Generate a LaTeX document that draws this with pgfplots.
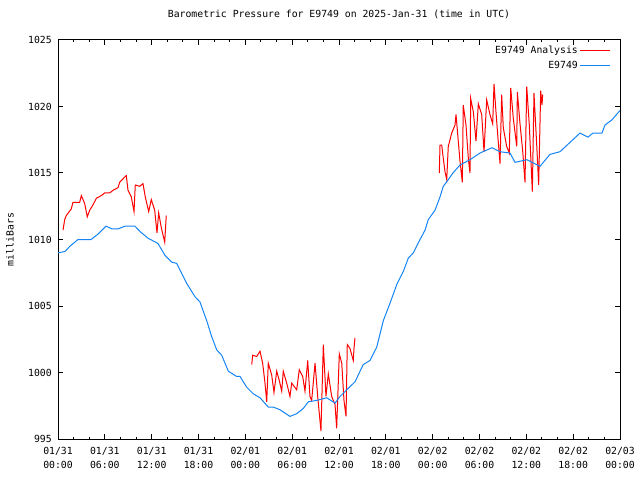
\documentclass[border=0pt]{standalone}
\usepackage{fontspec}
\setmainfont{DejaVu Sans Mono}
\usepackage{pgfplots}
\pgfplotsset{compat=1.18}
\definecolor{seriesred}{RGB}{255,0,0}
\definecolor{seriesblue}{RGB}{20,132,245}
\begin{document}
\fontsize{9.8bp}{14bp}\selectfont
\begin{tikzpicture}
\path[use as bounding box] (-58bp,-41bp) rectangle (582bp,439bp);
\begin{axis}[
  scale only axis,
  width=562bp, height=399bp,
  at={(0,0)}, anchor=south west,
  xmin=0, xmax=72, ymin=995, ymax=1025,
  axis line style={black, line width=1bp},
  every tick/.style={black, line width=1bp},
  major tick length=5bp, minor tick length=2.5bp,
  tick align=inside,
  xtick={0,6,...,72},
  minor x tick num=2,
  xticklabels={{01/31\\00:00},{01/31\\06:00},{01/31\\12:00},{01/31\\18:00},{02/01\\00:00},{02/01\\06:00},{02/01\\12:00},{02/01\\18:00},{02/02\\00:00},{02/02\\06:00},{02/02\\12:00},{02/02\\18:00},{02/03\\00:00}},
  xticklabel style={align=center, inner sep=0pt, yshift=-8bp, font=\fontsize{9.8bp}{14bp}\selectfont},
  ytick={995,1000,...,1025},
  yticklabel style={inner sep=0pt, xshift=-6bp, font=\fontsize{9.8bp}{14bp}\selectfont},
  /pgf/number format/.cd, 1000 sep={}, assume math mode=true, /pgfplots/.cd,
  title={Barometric Pressure for E9749 on 2025-Jan-31 (time in UTC)},
  title style={at={(0.5,1)}, anchor=base, yshift=17bp, inner sep=0pt, font=\fontsize{9.8bp}{12bp}\selectfont},
  ylabel={milliBars},
  ylabel style={at={(axis description cs:0,0.5)}, anchor=center, yshift=48bp, inner sep=0pt, font=\fontsize{9.8bp}{12bp}\selectfont},
  unbounded coords=jump,
  legend plot pos=right,
  legend cell align=right,
  legend style={draw=none, fill=none, at={(1,1)}, anchor=north east, xshift=-9bp, yshift=-4bp, row sep=2bp, inner sep=0pt, font=\fontsize{9.8bp}{12bp}\selectfont},
  legend image code/.code={\draw[#1] (5bp,0bp) -- (35bp,0bp);},
]
\addplot[seriesred, line width=1bp] table {
x y
0.64 1010.7
0.86 1011.5
1.06 1011.8
1.70 1012.3
1.92 1012.8
2.78 1012.8
2.99 1013.3
3.42 1012.7
3.75 1011.7
4.06 1012.2
4.48 1012.6
4.91 1013.1
5.55 1013.3
5.98 1013.5
6.62 1013.5
7.05 1013.7
7.69 1013.9
7.90 1014.3
8.55 1014.7
8.75 1014.8
8.97 1013.7
9.39 1013.2
9.74 1012.1
9.90 1014.1
10.47 1014.0
10.89 1014.2
11.18 1013.2
11.62 1012.1
11.95 1013.0
12.39 1012.2
12.68 1010.5
12.90 1012.0
13.23 1010.9
13.67 1009.8
13.87 1011.8
20 nan
24.82 1000.6
24.94 1001.3
25.46 1001.2
25.88 1001.6
26.22 1000.7
26.52 999.2
26.74 997.8
26.94 1000.7
27.38 999.8
27.67 998.5
28.02 1000.1
28.35 999.4
28.66 998.6
28.86 1000.1
29.30 999.2
29.72 998.2
29.94 999.2
30.58 998.7
30.91 1000.2
31.35 999.7
31.64 998.6
31.99 1000.9
32.28 998.2
32.50 997.9
32.93 1000.7
33.27 998.2
33.69 995.6
33.99 1002.1
34.33 998.2
34.63 999.9
35.06 998.2
35.49 997.6
35.70 995.8
36.04 1001.4
36.35 1000.7
36.64 997.9
36.90 996.7
37.06 1002.1
37.41 1001.8
37.83 1000.9
37.92 1001.8
38.05 1002.6
44 nan
48.85 1015.0
48.94 1017.1
49.16 1017.1
49.36 1016.1
49.58 1015.1
49.80 1014.5
50.00 1017.0
50.44 1018.0
50.86 1018.6
50.99 1019.4
51.28 1017.4
51.50 1015.9
51.80 1014.3
51.92 1020.1
52.27 1018.6
52.57 1016.1
52.78 1015.0
52.87 1020.6
53.21 1019.6
53.55 1017.4
53.85 1020.2
54.28 1019.4
54.58 1016.6
54.92 1020.5
55.34 1019.4
55.69 1018.7
55.86 1021.7
56.11 1019.6
56.33 1017.9
56.63 1015.7
56.84 1020.9
57.05 1018.4
57.48 1017.0
57.82 1016.5
58.00 1021.4
58.33 1019.1
58.77 1017.0
58.85 1021.1
59.19 1018.7
59.54 1016.6
59.83 1014.3
60.05 1021.5
60.38 1018.6
60.77 1013.6
60.98 1021.0
61.33 1017.1
61.58 1014.1
61.84 1021.2
62.00 1020.1
62.10 1020.9
};
\addlegendentry{E9749 Analysis}
\addplot[seriesblue, line width=1bp] table {
x y
0.00 1009.0
0.90 1009.1
1.54 1009.5
2.56 1010.0
4.23 1010.0
5.12 1010.4
6.15 1011.0
6.92 1010.8
7.69 1010.8
8.58 1011.0
9.86 1011.0
10.51 1010.6
11.53 1010.1
12.81 1009.7
13.71 1008.8
14.57 1008.3
15.21 1008.2
16.49 1006.7
17.55 1005.7
18.19 1005.3
19.05 1003.9
19.69 1002.7
20.33 1001.7
20.97 1001.3
21.61 1000.4
21.82 1000.1
22.89 999.7
23.32 999.7
24.17 998.9
25.02 998.4
25.88 998.1
26.94 997.4
27.58 997.4
28.44 997.2
29.72 996.7
30.58 996.9
31.43 997.3
32.07 997.8
33.14 997.9
34.42 998.1
35.49 997.7
36.13 998.2
36.99 998.7
38.05 999.3
39.11 1000.6
39.97 1000.9
40.83 1001.9
41.68 1003.9
42.53 1005.2
43.39 1006.6
44.24 1007.6
44.88 1008.6
45.52 1009.0
46.38 1010.0
47.02 1010.7
47.44 1011.5
48.30 1012.2
48.94 1013.2
49.36 1014.0
50.00 1014.5
50.60 1015.0
51.50 1015.6
52.78 1016.0
54.06 1016.5
55.60 1016.9
56.63 1016.6
57.91 1016.5
58.55 1015.8
60.08 1016.0
61.75 1015.5
63.03 1016.4
64.31 1016.6
65.59 1017.3
66.87 1018.0
67.90 1017.7
68.54 1018.0
69.69 1018.0
70.07 1018.6
70.97 1019.0
72.00 1019.7
};
\addlegendentry{E9749}
\end{axis}
\end{tikzpicture}
\end{document}
